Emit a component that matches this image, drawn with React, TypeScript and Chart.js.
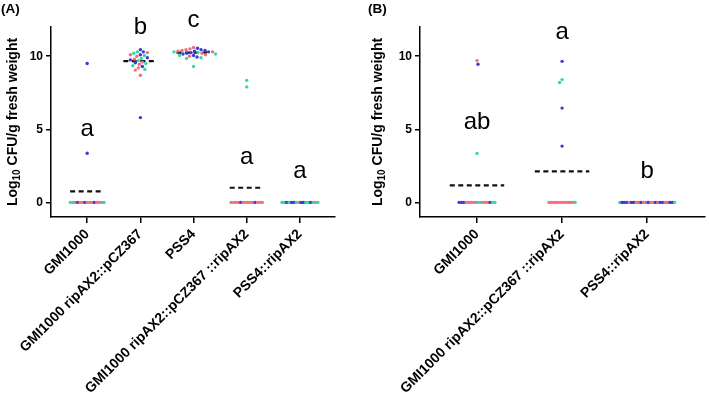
import React, { useEffect, useRef } from 'react';
import { Chart, registerables } from 'chart.js';

Chart.register(...registerables);

// ---------- data ----------
const categoriesA = [
  'GMI1000',
  'GMI1000 ripAX2::pCZ367',
  'PSS4',
  'GMI1000 ripAX2::pCZ367 ::ripAX2',
  'PSS4::ripAX2',
];
const categoriesB = ['GMI1000', 'GMI1000 ripAX2::pCZ367 ::ripAX2', 'PSS4::ripAX2'];

// Log10 CFU/g fresh weight for each plant, per strain
const valuesA1 = [0, 0, 0, 0, 0, 0, 0, 0, 0, 0, 0, 0, 0, 0, 0, 3.36, 9.5];
const colorsA1 = 'ggrbrrbrrrbrrrgbb';
const valuesA2 = [
  10.45, 10.3, 10.1, 9.9, 9.75, 9.55, 9.3, 5.8,
  10.25, 10.1, 10.0, 9.8, 9.6, 9.45, 9.2, 9.05, 8.7,
  10.3, 10.2, 10.05, 9.85, 9.7, 9.5, 9.35, 9.1,
];
const colorsA2 = 'bbbbbbbbrrrrrrrrrgggggggg';
const valuesA3 = [
  10.55, 10.45, 10.35, 10.3, 10.2, 10.15, 10.05, 9.95, 10.4, 10.25,
  10.6, 10.5, 10.4, 10.3, 10.2, 10.1, 10.0, 10.45, 10.35,
  10.3, 10.15, 10.05, 9.9, 9.85, 10.25, 9.3,
];
const colorsA3 = 'bbbbbbbbbbrrrrrrrrrggggggg';
const valuesA4 = [0, 0, 0, 0, 0, 0, 0, 0, 0, 0, 0, 0, 0, 0, 8.35, 7.9];
const colorsA4 = 'rrrrbrrrrrbrrrgg';
const valuesA5 = [0, 0, 0, 0, 0, 0, 0, 0, 0, 0, 0, 0, 0, 0, 0, 0];
const colorsA5 = 'ggbgbbgrbbggbgrg';

const valuesB1 = [0, 0, 0, 0, 0, 0, 0, 0, 0, 0, 0, 0, 0, 0, 0, 0, 9.7, 9.45, 3.35];
const colorsB1 = 'bbbrrrrrggrrrbggrbg';
const valuesB2 = [0, 0, 0, 0, 0, 0, 0, 0, 0, 0, 0, 0, 9.65, 8.4, 8.2, 6.45, 3.85];
const colorsB2 = 'rrrrrrrrrrrgbggbb';
const valuesB3 = [0, 0, 0, 0, 0, 0, 0, 0, 0, 0, 0, 0, 0, 0, 0, 0, 0, 0, 0, 0, 0, 0, 0, 0];
const colorsB3 = 'gbbbrbbrrbrrbrrbrbbrrbbg';

// group means (dashed lines)
const meansA = [0.75, 9.66, 10.25, 1.0, 0];
const meansB = [1.16, 2.12, 0];

// significance letters and the value they sit at
const lettersA = ['a', 'b', 'c', 'a', 'a'];
const letterYA = [5.0, 11.95, 12.45, 3.1, 2.1];
const lettersB = ['ab', 'a', 'b'];
const letterYB = [5.5, 11.6, 2.1];

const yTicks = [0, 5, 10];
const yTitleParts = ['Log', '10', ' CFU/g fresh weight'];

// ---------- styling ----------
const FONT = '"Liberation Sans", Arial, sans-serif';
const COLOR_MAP: Record<string, string> = { r: '#f0707c', g: '#34d9a2', b: '#3b3bd6' };
const MEAN_HALF = 0.32;
const ZERO_GAP = 2.4;
const SWARM_D = 3.7;
const PX_Y = 14.6;

function swarm(vals: number[], pxX: number): number[] {
  const offs = vals.map(() => 0);
  const zeros = vals.map((_, i) => i).filter((i) => vals[i] === 0);
  zeros.forEach((idx, k) => {
    offs[idx] = ((k - (zeros.length - 1) / 2) * ZERO_GAP) / pxX;
  });
  const placed: [number, number][] = [];
  const rest = vals
    .map((_, i) => i)
    .filter((i) => vals[i] !== 0)
    .sort((a, b) => vals[b] - vals[a]);
  rest.forEach((idx, n) => {
    const y = vals[idx] * PX_Y;
    let best = 0;
    for (let s = 0; s < 400; s++) {
      const cand = (s % 2 === 0 ? 1 : -1) * Math.ceil(s / 2) * 0.5 * (n % 2 ? -1 : 1);
      if (placed.every(([px, py]) => Math.hypot(px - cand, py - y) >= SWARM_D)) {
        best = cand;
        break;
      }
    }
    placed.push([best, y]);
    offs[idx] = best / pxX;
  });
  return offs;
}

type Panel = {
  label: string;
  cats: string[];
  values: number[][];
  colors: string[];
  means: number[];
  letters: string[];
  letterY: number[];
  xMin: number;
  xMax: number;
  pxX: number;
  padRight: number;
  yWidth: number;
  titleX: number;
  labelX: number;
};

const panelA: Panel = {
  label: '(A)',
  cats: categoriesA,
  values: [valuesA1, valuesA2, valuesA3, valuesA4, valuesA5],
  colors: [colorsA1, colorsA2, colorsA3, colorsA4, colorsA5],
  means: meansA,
  letters: lettersA,
  letterY: letterYA,
  xMin: -0.68,
  xMax: 4.66,
  pxX: 53.2,
  padRight: 25,
  yWidth: 51,
  titleX: 12,
  labelX: 1,
};

const panelB: Panel = {
  label: '(B)',
  cats: categoriesB,
  values: [valuesB1, valuesB2, valuesB3],
  colors: [colorsB1, colorsB2, colorsB3],
  means: meansB,
  letters: lettersB,
  letterY: letterYB,
  xMin: -0.67,
  xMax: 2.68,
  pxX: 85.7,
  padRight: 2,
  yWidth: 60,
  titleX: 17,
  labelX: 8,
};

function makeChart(canvas: HTMLCanvasElement, p: Panel) {
  const datasets: any[] = [];
  p.cats.forEach((_, i) => {
    const offs = swarm(p.values[i], p.pxX);
    datasets.push({
      data: p.values[i].map((v, k) => ({ x: i + offs[k], y: v })),
      pointBackgroundColor: p.colors[i].split('').map((c) => COLOR_MAP[c]),
      pointBorderWidth: 0,
      pointRadius: 1.7,
      showLine: false,
      order: 1,
    });
  });
  p.cats.forEach((_, i) => {
    datasets.push({
      data: [
        { x: i - MEAN_HALF, y: p.means[i] },
        { x: i + MEAN_HALF, y: p.means[i] },
      ],
      showLine: true,
      borderColor: '#111',
      borderWidth: 2.2,
      borderDash: [5, 3.5],
      pointRadius: 0,
      order: 2,
    });
  });

  const annot = {
    id: 'annot',
    afterDraw(chart: any) {
      const ctx = chart.ctx;
      const xs = chart.scales.x;
      const ys = chart.scales.y;
      const area = chart.chartArea;
      ctx.save();
      ctx.fillStyle = '#000';
      ctx.textAlign = 'center';
      ctx.textBaseline = 'middle';
      ctx.font = `24px ${FONT}`;
      p.letters.forEach((t, i) => {
        ctx.fillText(t, xs.getPixelForValue(i), ys.getPixelForValue(p.letterY[i]));
      });
      // panel label
      ctx.textAlign = 'left';
      ctx.textBaseline = 'top';
      ctx.font = `bold 13.5px ${FONT}`;
      ctx.fillText(p.label, p.labelX, 3);
      // y-axis title with a real subscript
      const big = `bold 14px ${FONT}`;
      const small = `bold 10px ${FONT}`;
      ctx.font = big;
      const w0 = ctx.measureText(yTitleParts[0]).width;
      const w2 = ctx.measureText(yTitleParts[2]).width;
      ctx.font = small;
      const w1 = ctx.measureText(yTitleParts[1]).width;
      const total = w0 + w1 + w2;
      ctx.translate(p.titleX, (area.top + area.bottom) / 2);
      ctx.rotate(-Math.PI / 2);
      ctx.textBaseline = 'alphabetic';
      let x = -total / 2;
      ctx.font = big;
      ctx.fillText(yTitleParts[0], x, 5);
      x += w0;
      ctx.font = small;
      ctx.fillText(yTitleParts[1], x, 8);
      x += w1;
      ctx.font = big;
      ctx.fillText(yTitleParts[2], x, 5);
      ctx.restore();
    },
  };

  return new Chart(canvas, {
    type: 'scatter',
    data: { datasets },
    plugins: [annot],
    options: {
      animation: false,
      responsive: false,
      layout: { padding: { top: 27, right: p.padRight, left: 0, bottom: 0 } },
      plugins: { legend: { display: false }, tooltip: { enabled: false } },
      scales: {
        x: {
          type: 'linear',
          min: p.xMin,
          max: p.xMax,
          afterBuildTicks: (s: any) => {
            s.ticks = p.cats.map((_, i) => ({ value: i }));
          },
          afterFit: (s: any) => {
            s.height = 184;
          },
          grid: {
            display: true,
            drawOnChartArea: false,
            drawTicks: true,
            tickLength: 6,
            color: '#000',
            lineWidth: 1.5,
          },
          border: { display: true, color: '#000', width: 1.5 },
          ticks: {
            autoSkip: false,
            maxRotation: 45,
            minRotation: 45,
            padding: 3,
            color: '#000',
            font: { family: FONT, weight: 'bold', size: 14 },
            callback: (v: any) => p.cats[Math.round(Number(v))] ?? '',
          },
        },
        y: {
          type: 'linear',
          min: -1,
          max: 12,
          afterBuildTicks: (s: any) => {
            s.ticks = yTicks.map((v) => ({ value: v }));
          },
          afterFit: (s: any) => {
            s.width = p.yWidth;
          },
          grid: {
            display: true,
            drawOnChartArea: false,
            drawTicks: true,
            tickLength: 5,
            color: '#000',
            lineWidth: 1.5,
          },
          border: { display: true, color: '#000', width: 1.5 },
          ticks: {
            padding: 3,
            color: '#000',
            font: { family: FONT, weight: 'bold', size: 12 },
          },
        },
      },
    } as any,
  });
}

export default function App() {
  const refA = useRef<HTMLCanvasElement>(null);
  const refB = useRef<HTMLCanvasElement>(null);
  useEffect(() => {
    const a = makeChart(refA.current!, panelA);
    const b = makeChart(refB.current!, panelB);
    return () => {
      a.destroy();
      b.destroy();
    };
  }, []);
  return (
    <div style={{ position: 'fixed', left: 0, top: 0, width: 709, height: 401, background: '#fff' }}>
      <canvas
        ref={refA}
        width={360}
        height={401}
        style={{ position: 'absolute', left: 0, top: 0, width: 360, height: 401 }}
      />
      <canvas
        ref={refB}
        width={349}
        height={401}
        style={{ position: 'absolute', left: 360, top: 0, width: 349, height: 401 }}
      />
    </div>
  );
}
